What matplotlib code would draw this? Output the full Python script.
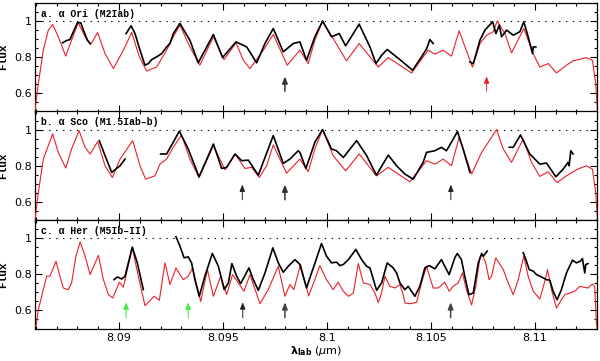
import matplotlib
matplotlib.use("Agg")
import matplotlib.pyplot as plt
from matplotlib.ticker import MultipleLocator, FixedLocator, FixedFormatter

# ---------------- data ----------------
# panel a : alpha Ori
a_model_wl = [8.08596, 8.08612, 8.08636, 8.0866, 8.08681, 8.08708, 8.08744, 8.08772, 8.08804, 8.08837,
              8.08864, 8.08897, 8.08933, 8.08973, 8.09021, 8.09061, 8.09098, 8.09133, 8.09181, 8.09229,
              8.09261, 8.09293, 8.09341, 8.09389, 8.09454, 8.09505, 8.09563, 8.09598, 8.0963, 8.09694,
              8.09742, 8.09809, 8.0987, 8.0991, 8.09942, 8.09979, 8.1003, 8.10094, 8.10155, 8.10247,
              8.10295, 8.10407, 8.10487, 8.10519, 8.10559, 8.10599, 8.10636, 8.107, 8.10736, 8.10768,
              8.108, 8.10819, 8.10856, 8.10888, 8.10947, 8.10992, 8.11024, 8.11065, 8.11104, 8.11152,
              8.11184, 8.11248, 8.11277, 8.11293, 8.11301]
a_model_fl = [0.506, 0.654, 0.839, 0.95, 0.981, 0.913, 0.806, 0.894, 0.991, 0.913,
              0.87, 0.937, 0.82, 0.737, 0.839, 0.937, 0.802, 0.724, 0.746, 0.839,
              0.913, 0.978, 0.857, 0.756, 0.913, 0.787, 0.88, 0.783, 0.737, 0.839,
              0.926, 0.756, 0.839, 0.765, 0.894, 1.0, 0.904, 0.78, 0.876, 0.746,
              0.798, 0.713, 0.839, 0.817, 0.839, 0.806, 0.946, 0.746, 0.876, 0.922,
              0.941, 1.0, 0.931, 0.824, 0.959, 0.82, 0.746, 0.765, 0.713, 0.756,
              0.78, 0.798, 0.783, 0.654, 0.506]
a_obs1_wl = [8.08729, 8.08745, 8.08764, 8.08784, 8.088, 8.08816, 8.08829, 8.08848, 8.08861]
a_obs1_fl = [0.88, 0.891, 0.898, 0.95, 0.991, 0.991, 0.95, 0.894, 0.876]
a_obs2_wl = [8.09034, 8.09058, 8.09077, 8.09101, 8.09125, 8.09141, 8.09157, 8.09181, 8.09205, 8.09229,
             8.09245, 8.09261, 8.09293, 8.09341, 8.09381, 8.09454, 8.09498, 8.09563, 8.09614, 8.09662,
             8.09702, 8.09742, 8.0979, 8.09838, 8.0987, 8.09902, 8.09942, 8.09979, 8.10022, 8.10059,
             8.1009, 8.10155, 8.10207, 8.10236, 8.10263, 8.1029, 8.10351, 8.10412, 8.10455, 8.1048,
             8.10495, 8.10511]
a_obs2_fl = [0.931, 0.974, 0.931, 0.839, 0.756, 0.765, 0.787, 0.802, 0.82, 0.857,
             0.876, 0.93, 0.987, 0.894, 0.769, 0.926, 0.798, 0.885, 0.857, 0.769,
             0.876, 0.959, 0.83, 0.876, 0.885, 0.783, 0.913, 1.0, 0.913, 0.931,
             0.863, 0.983, 0.857, 0.765, 0.811, 0.843, 0.787, 0.728, 0.802, 0.848,
             0.898, 0.876]
a_obs3_wl = [8.10688, 8.10704, 8.10736, 8.1076, 8.10797, 8.10813, 8.10829, 8.1084, 8.10864, 8.10896,
             8.10928, 8.10947, 8.10968, 8.10989, 8.10992, 8.11005]
a_obs3_fl = [0.774, 0.765, 0.894, 0.95, 0.996, 0.931, 0.978, 0.913, 0.95, 0.922,
             0.941, 0.996, 0.913, 0.82, 0.857, 0.857]

# panel b : alpha Sco
b_model_wl = [8.08596, 8.08612, 8.08636, 8.08681, 8.08708, 8.08744, 8.08772, 8.08808, 8.08837, 8.08861,
              8.08897, 8.08933, 8.08968, 8.09005, 8.09066, 8.09101, 8.09128, 8.09173, 8.09197, 8.09229,
              8.09261, 8.09301, 8.09341, 8.09385, 8.09454, 8.0951, 8.09558, 8.09606, 8.09638, 8.09675,
              8.0971, 8.09742, 8.09806, 8.0987, 8.0991, 8.09942, 8.09979, 8.1003, 8.1009, 8.10155,
              8.10238, 8.10295, 8.10399, 8.10479, 8.1052, 8.10559, 8.10599, 8.10636, 8.10696, 8.10744,
              8.10816, 8.10848, 8.10888, 8.10944, 8.10984, 8.11024, 8.11064, 8.11107, 8.11152, 8.112,
              8.11248, 8.11277, 8.11293, 8.11301]
b_model_fl = [0.504, 0.652, 0.837, 0.976, 0.874, 0.787, 0.893, 0.994, 0.902, 0.865,
              0.933, 0.8, 0.735, 0.837, 0.939, 0.8, 0.726, 0.744, 0.809, 0.837,
              0.902, 0.97, 0.837, 0.735, 0.911, 0.778, 0.865, 0.785, 0.791, 0.735,
              0.8, 0.915, 0.759, 0.837, 0.767, 0.893, 1.0, 0.856, 0.772, 0.865,
              0.744, 0.791, 0.711, 0.828, 0.809, 0.837, 0.8, 0.957, 0.754, 0.874,
              1.0, 0.893, 0.819, 0.948, 0.819, 0.741, 0.767, 0.707, 0.744, 0.778,
              0.8, 0.781, 0.652, 0.504]
b_obs1_wl = [8.08905, 8.08935, 8.08965, 8.09005, 8.09029]
b_obs1_fl = [0.939, 0.85, 0.763, 0.8, 0.837]
b_obs2_wl = [8.092, 8.09229, 8.09261, 8.0929, 8.09333, 8.09385, 8.09454, 8.09494, 8.09518, 8.09558,
             8.0959, 8.09622, 8.0967, 8.09742, 8.0979, 8.09822, 8.09862, 8.0987, 8.09899, 8.09942,
             8.09979, 8.10022, 8.10046, 8.10079, 8.10143, 8.10191, 8.10238, 8.10295, 8.10335, 8.10375,
             8.10415, 8.10463, 8.10479, 8.10519, 8.10551, 8.10575, 8.10628, 8.10655, 8.10688]
b_obs2_fl = [0.865, 0.865, 0.93, 0.991, 0.893, 0.739, 0.92, 0.785, 0.791, 0.865,
             0.828, 0.831, 0.748, 0.967, 0.813, 0.837, 0.883, 0.874, 0.785, 0.93,
             1.0, 0.893, 0.883, 0.846, 0.939, 0.856, 0.748, 0.859, 0.8, 0.754,
             0.726, 0.819, 0.874, 0.883, 0.902, 0.883, 0.989, 0.893, 0.763]
b_obs3_wl = [8.10877, 8.10896, 8.10931, 8.10976, 8.11024, 8.11056, 8.11101, 8.11136, 8.1116, 8.11165,
             8.11173, 8.11184]
b_obs3_fl = [0.902, 0.902, 0.97, 0.865, 0.809, 0.815, 0.739, 0.781, 0.819, 0.80,
             0.883, 0.865]

# panel c : alpha Her
c_model_wl = [8.08601, 8.08612, 8.08628, 8.08644, 8.08652, 8.08668, 8.08697, 8.08716, 8.08732, 8.08756,
              8.08772, 8.08793, 8.08813, 8.08837, 8.08861, 8.08901, 8.08925, 8.08949, 8.0897, 8.09002,
              8.09021, 8.0904, 8.09064, 8.09093, 8.09125, 8.09146, 8.09168, 8.09194, 8.09221, 8.09245,
              8.09274, 8.09309, 8.09333, 8.09354, 8.09393, 8.09425, 8.09454, 8.09489, 8.09518, 8.09546,
              8.09574, 8.09601, 8.0963, 8.09678, 8.09718, 8.09766, 8.09798, 8.09822, 8.09841, 8.09873,
              8.09912, 8.09942, 8.09966, 8.09998, 8.1003, 8.10054, 8.10079, 8.10103, 8.10127, 8.10151,
              8.10175, 8.10207, 8.10231, 8.10247, 8.10263, 8.10279, 8.10303, 8.10327, 8.10351, 8.10367,
              8.10375, 8.10399, 8.10431, 8.10455, 8.10479, 8.10511, 8.10535, 8.10567, 8.10588, 8.10607,
              8.10631, 8.10652, 8.10671, 8.10696, 8.10716, 8.10736, 8.10747, 8.10764, 8.1078, 8.10792,
              8.10812, 8.10848, 8.10872, 8.10896, 8.1092, 8.10947, 8.10968, 8.10992, 8.11024, 8.11048,
              8.11061, 8.1108, 8.11104, 8.11128, 8.11144, 8.11168, 8.11192, 8.11216, 8.11256, 8.11277,
              8.11288, 8.11296, 8.113]
c_model_fl = [0.511, 0.604, 0.678, 0.752, 0.789, 0.789, 0.872, 0.789, 0.724, 0.715,
              0.752, 0.9, 0.978, 0.9, 0.798, 0.904, 0.77, 0.687, 0.669, 0.756,
              0.728, 0.826, 0.946, 0.789, 0.626, 0.65, 0.678, 0.656, 0.863, 0.743,
              0.835, 0.77, 0.789, 0.835, 0.65, 0.826, 0.678, 0.789, 0.687, 0.798,
              0.752, 0.706, 0.798, 0.637, 0.715, 0.844, 0.678, 0.743, 0.715, 0.854,
              0.68, 0.77, 0.848, 0.77, 0.715, 0.756, 0.706, 0.678, 0.696, 0.859,
              0.752, 0.743, 0.696, 0.644, 0.696, 0.789, 0.733, 0.724, 0.743, 0.687,
              0.641, 0.637, 0.644, 0.752, 0.844, 0.724, 0.724, 0.756, 0.706, 0.733,
              0.752, 0.807, 0.715, 0.631, 0.733, 0.891, 0.909, 0.863, 0.77, 0.789,
              0.891, 0.826, 0.752, 0.687, 0.77, 0.9, 0.789, 0.706, 0.663, 0.761,
              0.826, 0.715, 0.613, 0.659, 0.687, 0.696, 0.706, 0.733, 0.724, 0.746,
              0.733, 0.53, 0.5]
c_obs1_wl = [8.08976, 8.08992, 8.09013, 8.09029, 8.09045, 8.09064, 8.09088, 8.09117]
c_obs1_fl = [0.77, 0.785, 0.774, 0.789, 0.863, 0.95, 0.863, 0.715]
c_obs2_wl = [8.09274, 8.09293, 8.09313, 8.09333, 8.09349, 8.09365, 8.09386, 8.09413, 8.09449, 8.09478,
             8.09506, 8.09526, 8.09543, 8.09566, 8.09585, 8.09625, 8.09646, 8.0967, 8.09702, 8.0974,
             8.09766, 8.0979, 8.09814, 8.09846, 8.0987, 8.09902, 8.09926, 8.09942, 8.09974, 8.09998,
             8.10022, 8.10046, 8.10062, 8.10079, 8.10103, 8.10139, 8.10167, 8.10191, 8.10207, 8.10239,
             8.10263, 8.1029, 8.10319, 8.10335, 8.10351, 8.10375, 8.10391, 8.10423, 8.10447, 8.10471,
             8.10492, 8.10519, 8.10551, 8.10575, 8.10588, 8.10615, 8.10627, 8.10647, 8.10663, 8.10683,
             8.10704, 8.10728, 8.10744, 8.10752, 8.10771]
c_obs2_fl = [1.007, 0.956, 0.891, 0.896, 0.863, 0.77, 0.678, 0.789, 0.915, 0.844,
             0.715, 0.752, 0.859, 0.789, 0.748, 0.835, 0.77, 0.711, 0.807, 0.946,
             0.863, 0.811, 0.844, 0.881, 0.854, 0.724, 0.807, 0.86, 0.97, 0.9,
             0.863, 0.867, 0.848, 0.854, 0.881, 0.937, 0.881, 0.844, 0.835, 0.711,
             0.752, 0.863, 0.835, 0.807, 0.752, 0.715, 0.733, 0.678, 0.733, 0.835,
             0.848, 0.83, 0.881, 0.826, 0.798, 0.891, 0.915, 0.881, 0.789, 0.687,
             0.696, 0.863, 0.915, 0.9, 0.928]
c_obs3_wl = [8.10944, 8.10957, 8.10973, 8.10992, 8.11008, 8.11032, 8.11056, 8.11072, 8.11088, 8.11107,
             8.11128, 8.11152, 8.11181, 8.112, 8.11219, 8.11229, 8.1124, 8.11245, 8.11256]
c_obs3_fl = [0.919, 0.881, 0.826, 0.817, 0.798, 0.785, 0.77, 0.767, 0.706, 0.659,
             0.715, 0.807, 0.878, 0.863, 0.872, 0.887, 0.807, 0.854, 0.859]

panel_labels = ["a. α Ori (M2Iab)", "b. α Sco (M1.5Iab–b)", "c. α Her (M5Ib–II)"]

# arrows (wavelength, tip flux, tail flux)
a_arrow_black = [8.09798]
a_arrow_red = [8.10768]
a_arrow_tip, a_arrow_tail = 0.694, 0.612
b_arrow_thin = [8.09593, 8.10596]
b_arrow_thick = [8.09798]
b_arrow_tip, b_arrow_tail = 0.696, 0.612
c_arrow_green = [8.09034, 8.09333]
c_arrow_thin = [8.09595]
c_arrow_thick = [8.09798, 8.10595]
c_arrow_tip, c_arrow_tail = 0.645, 0.560

x_major = [8.09, 8.095, 8.10, 8.105, 8.11]
x_major_labels = ["8.09", "8.095", "8.1", "8.105", "8.11"]
y_major = [0.6, 0.8, 1.0]
y_major_labels = ["0.6", "0.8", "1"]
xlim = (8.08596, 8.11299)
ylim = (0.5, 1.1)

# ---------------- figure ----------------
RED = "#e8202a"
fig = plt.figure(figsize=(6.0, 3.61), dpi=100)
left, width = 35 / 600, 562 / 600
h = 108.5 / 361
bottoms = [1 - 111.5 / 361, 1 - 220 / 361, 1 - 328.5 / 361]

mono = ["Liberation Mono", "DejaVu Sans Mono"]

panels = [
    (a_model_wl, a_model_fl, [(a_obs1_wl, a_obs1_fl), (a_obs2_wl, a_obs2_fl), (a_obs3_wl, a_obs3_fl)]),
    (b_model_wl, b_model_fl, [(b_obs1_wl, b_obs1_fl), (b_obs2_wl, b_obs2_fl), (b_obs3_wl, b_obs3_fl)]),
    (c_model_wl, c_model_fl, [(c_obs1_wl, c_obs1_fl), (c_obs2_wl, c_obs2_fl), (c_obs3_wl, c_obs3_fl)]),
]

axes = []
for i, (mw, mf, obs) in enumerate(panels):
    ax = fig.add_axes([left, bottoms[i], width, h])
    axes.append(ax)
    ax.axhline(1.0, color="black", lw=0.8, ls=(0, (1.2, 5)))
    ax.plot(mw, mf, color=RED, lw=0.8, zorder=3, solid_joinstyle="round")
    for ow, of in obs:
        ax.plot(ow, of, color="black", lw=1.2, zorder=4, solid_joinstyle="round")
    ax.set_xlim(*xlim)
    ax.set_ylim(*ylim)
    ax.xaxis.set_major_locator(FixedLocator(x_major))
    ax.xaxis.set_minor_locator(MultipleLocator(0.001))
    ax.yaxis.set_major_locator(FixedLocator(y_major))
    ax.yaxis.set_major_formatter(FixedFormatter(y_major_labels))
    ax.yaxis.set_minor_locator(MultipleLocator(0.05))
    ax.tick_params(which="both", direction="in", top=True, right=True, width=0.8)
    ax.tick_params(which="major", length=5)
    ax.tick_params(which="minor", length=2.5)
    ax.tick_params(axis="y", labelsize=8, pad=2)
    ax.tick_params(axis="x", labelsize=8, pad=3)
    for s in ax.spines.values():
        s.set_linewidth(0.9)
    if i < 2:
        ax.tick_params(axis="x", labelbottom=False)
    else:
        ax.xaxis.set_major_formatter(FixedFormatter(x_major_labels))
    ax.set_ylabel("Flux", fontfamily=mono, fontweight="bold", fontsize=8, labelpad=2)
    ax.yaxis.set_label_coords(-0.047, 0.5)
    ax.text(0.01, 0.945, panel_labels[i], transform=ax.transAxes, fontfamily=mono,
            fontweight="bold", fontsize=7, va="top", ha="left")

def arrow(ax, x, tip, tail, color, lw):
    ax.annotate("", xy=(x, tip), xytext=(x, tail),
                arrowprops=dict(arrowstyle="-|>,head_length=0.4,head_width=0.16",
                                color=color, lw=lw, shrinkA=0, shrinkB=0),
                zorder=5)

for x in a_arrow_black:
    arrow(axes[0], x, a_arrow_tip, a_arrow_tail, "#333333", 1.1)
for x in a_arrow_red:
    arrow(axes[0], x, a_arrow_tip, a_arrow_tail, RED, 0.7)
for x in b_arrow_thin:
    arrow(axes[1], x, b_arrow_tip, b_arrow_tail, "#222222", 0.7)
for x in b_arrow_thick:
    arrow(axes[1], x, b_arrow_tip, b_arrow_tail, "#333333", 1.1)
for x in c_arrow_green:
    arrow(axes[2], x, c_arrow_tip, c_arrow_tail, "#44ee44", 0.8)
for x in c_arrow_thin:
    arrow(axes[2], x, c_arrow_tip, c_arrow_tail, "#222222", 0.7)
for x in c_arrow_thick:
    arrow(axes[2], x, c_arrow_tip, c_arrow_tail, "#444444", 1.1)

axes[2].set_xlabel(r"$\mathbf{\lambda_{lab}}$ ($\mu$m)", fontsize=8, labelpad=1)

fig.savefig("out.png", dpi=100)
